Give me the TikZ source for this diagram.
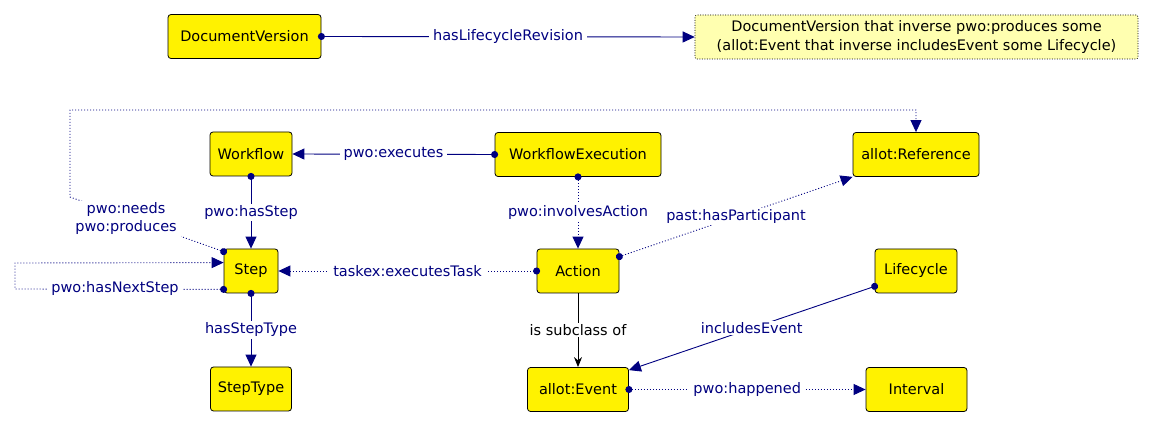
\documentclass[tikz,border=0pt]{standalone}
\usepackage{fontspec}
\setmainfont{DejaVu Sans}
\usetikzlibrary{arrows.meta,calc}
\definecolor{edgeblue}{HTML}{000080}
\definecolor{lightyel}{HTML}{FFFFB0}
\begin{document}
\begin{tikzpicture}[x=1pt,y=-1pt,
  font=\fontsize{14.5}{18.5}\selectfont,
  cls/.style={draw=black, fill=yellow, rounded corners=3pt, line width=0.8pt, inner sep=0pt, minimum height=44pt},
  expr/.style={draw=black, fill=lightyel, rounded corners=2pt, line width=0.6pt, dash pattern=on 1pt off 1.5pt, inner sep=0pt, minimum height=44pt, minimum width=443pt, align=center},
  lbl/.style={text=edgeblue, fill=white, inner xsep=4pt, inner ysep=1.5pt},
  rel/.style={draw=edgeblue, line width=0.9pt, {Circle[length=7pt]}-{Triangle[length=12pt,width=11pt]}, shorten <=-3.5pt},
  drel/.style={rel, dash pattern=on 1pt off 2pt},
  sub/.style={draw=black, line width=0.9pt, -{Stealth[length=10pt,width=8pt]}},
]
\useasboundingbox (0,0) rectangle (1154,427);

% nodes
\node[cls, minimum width=153pt] (dv) at (244.5,36.5) {DocumentVersion};
\node[expr] (ex) at (916.5,37) {DocumentVersion that inverse pwo:produces some\\(allot:Event that inverse includesEvent some Lifecycle)};
\node[cls, minimum width=82pt] (wf) at (251,154) {Workflow};
\node[cls, minimum width=166pt] (wfe) at (578,154.5) {WorkflowExecution};
\node[cls, minimum width=126pt] (ref) at (916,154.5) {allot:Reference};
\node[cls, minimum width=54pt] (step) at (251,271) {Step};
\node[cls, minimum width=82pt] (act) at (578,271) {Action};
\node[cls, minimum width=82pt] (life) at (916,271) {Lifecycle};
\node[cls, minimum width=81pt] (st) at (251,389) {StepType};
\node[cls, minimum width=101pt] (ev) at (578,389.5) {allot:Event};
\node[cls, minimum width=101pt] (iv) at (916.5,389.5) {Interval};

% helper coordinates
\coordinate (stepNW) at ($(step.north west)+(0,3)$);
\coordinate (stepLoopOut) at ($(step.south west)+(0,-4)$);
\coordinate (stepLoopIn) at ($(step.north west)+(0,14)$);
\coordinate (loopA) at (15,289);
\coordinate (loopB) at (15,263);
\coordinate (needA) at (70,197);
\coordinate (needB) at (70,110);
\coordinate (needC) at (916,110);
\coordinate (actNE) at ($(act.north east)+(0,8)$);
\coordinate (lifeW) at ($(life.south west)+(0,-7)$);
\coordinate (evNE) at ($(ev.north east)+(0,3)$);

% edges
\draw[rel] (dv.east) -- node[lbl] {hasLifecycleRevision} (ex.west);
\draw[rel] (wfe.west) -- node[lbl] {pwo:executes} (wf.east);
\draw[rel] (wf.south) -- node[lbl] {pwo:hasStep} (step.north);
\draw[drel] (wfe.south) -- node[lbl] {pwo:involvesAction} (act.north);
\draw[drel] (act.west) -- node[lbl] {taskex:executesTask} (step.east);
\draw[drel] (actNE) -- node[lbl] {past:hasParticipant} (ref.south west);
\draw[drel] (stepNW) -- (needA) -- (needB) -- (needC) -- (ref.north);
\node[lbl, align=center, font=\fontsize{14.5}{18}\selectfont] (needlbl) at (126,219) {pwo:needs\\pwo:produces};
\draw[drel] (stepLoopOut) -- (loopA) -- (loopB) -- (stepLoopIn);
\node[lbl] (nextlbl) at (115,289) {pwo:hasNextStep};
\draw[rel] (step.south) -- node[lbl] {hasStepType} (st.north);
\draw[sub] (act.south) -- node[fill=white, inner xsep=4pt, inner ysep=1.5pt] {is subclass of} (ev.north);
\draw[rel] (lifeW) -- node[lbl] {includesEvent} (evNE);
\draw[drel] (ev.east) -- node[lbl] {pwo:happened} (iv.west);
\end{tikzpicture}
\end{document}
